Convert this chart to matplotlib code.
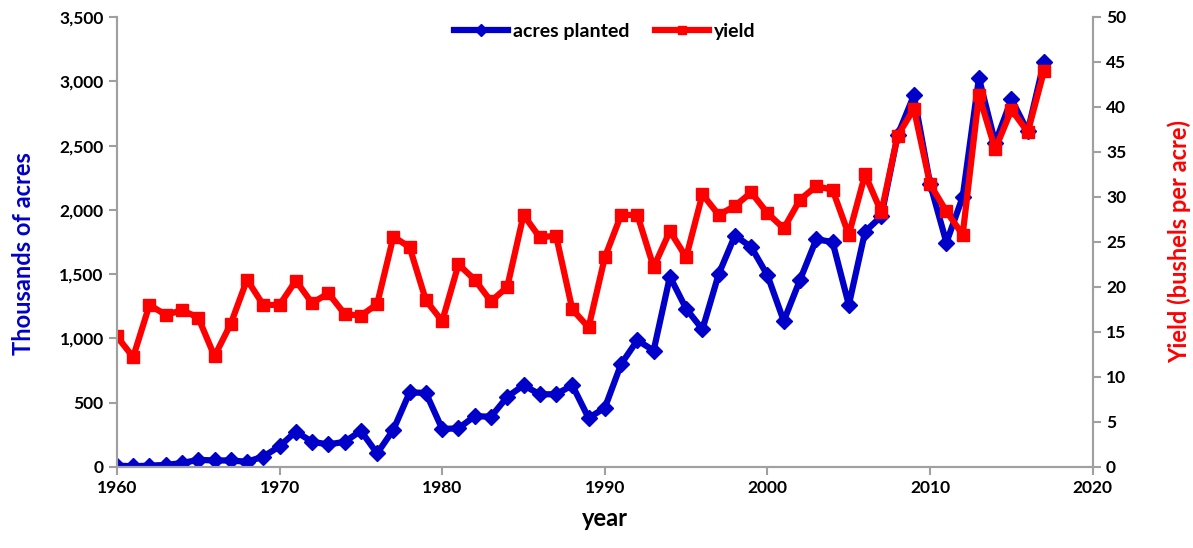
import numpy as np
import matplotlib.pyplot as plt
from matplotlib.ticker import FuncFormatter

years = list(range(1960, 2018))
acres = [10, 5, 10, 15, 30, 55, 50, 50, 40, 80,
         160, 275, 195, 175, 195, 280, 105, 290, 580, 575,
         295, 300, 395, 390, 545, 635, 565, 565, 635, 380,
         460, 800, 985, 905, 1480, 1230, 1070, 1500, 1800, 1710,
         1490, 1135, 1455, 1770, 1750, 1260, 1830, 1950, 2580, 2890,
         2200, 1745, 2100, 3025, 2520, 2860, 2610, 3150]
yield_bu = [14.5, 12.2, 18.0, 16.9, 17.4, 16.6, 12.3, 15.9, 20.8, 18.0,
            18.0, 20.7, 18.2, 19.3, 17.0, 16.8, 18.1, 25.6, 24.4, 18.5,
            16.2, 22.5, 20.8, 18.4, 20.0, 28.0, 25.5, 25.7, 17.5, 15.5,
            23.3, 28.0, 28.0, 22.2, 26.2, 23.3, 30.3, 28.0, 29.0, 30.5,
            28.2, 26.5, 29.7, 31.2, 30.8, 25.8, 32.5, 28.3, 36.8, 39.8,
            31.4, 28.4, 25.8, 41.3, 35.3, 39.7, 37.2, 44.0]

plt.rcParams['font.family'] = ['Lato', 'DejaVu Sans']
plt.rcParams['font.weight'] = 'bold'

BLUE = '#0000C8'
RED = '#FF0000'
GRAY = '#A0A0A0'

fig = plt.figure(figsize=(11.93, 5.48), dpi=100)
ax = fig.add_axes([0.098, 0.148, 0.818, 0.821])
ax2 = ax.twinx()

# yield drawn on top of acres, as in the source chart
l1, = ax.plot(years, acres, color=BLUE, lw=4.5, marker='D', ms=8,
              label='acres planted')
l2, = ax2.plot(years, yield_bu, color=RED, lw=4.5, marker='s', ms=8,
               label='yield')

ax.set_xlim(1960, 2020)
ax.set_ylim(0, 3500)
ax2.set_ylim(0, 50)
ax.set_xticks(range(1960, 2021, 10))
ax.set_yticks(range(0, 3501, 500))
ax2.set_yticks(range(0, 51, 5))
ax.yaxis.set_major_formatter(FuncFormatter(lambda v, p: f'{int(v):,}'))

for a in (ax, ax2):
    a.spines['top'].set_visible(False)
    for s in ('left', 'right', 'bottom'):
        a.spines[s].set_color(GRAY)
        a.spines[s].set_linewidth(1.5)
    a.tick_params(colors=GRAY, labelcolor='black', labelsize=12.5,
                  width=1.5, length=6)
    for lab in a.get_xticklabels() + a.get_yticklabels():
        lab.set_fontweight('bold')

ax.set_xlabel('year', fontsize=17, fontweight='bold', labelpad=8)
ax.set_ylabel('Thousands of acres', fontsize=17, fontweight='bold', color=BLUE)
ax2.set_ylabel('Yield (bushels per acre)', fontsize=17, fontweight='bold',
               color=RED, rotation=90)
ax.yaxis.set_label_coords(-0.084, 0.475)
ax2.yaxis.set_label_coords(1.077, 0.5)

leg = ax2.legend(handles=[l1, l2], loc='upper center', ncol=2, frameon=False,
                 fontsize=14, bbox_to_anchor=(0.5, 1.025), columnspacing=1.3,
                 handlelength=2.8, handletextpad=0.25, markerscale=0.8)
for t in leg.get_texts():
    t.set_fontweight('bold')

fig.savefig('out.png', dpi=100)
